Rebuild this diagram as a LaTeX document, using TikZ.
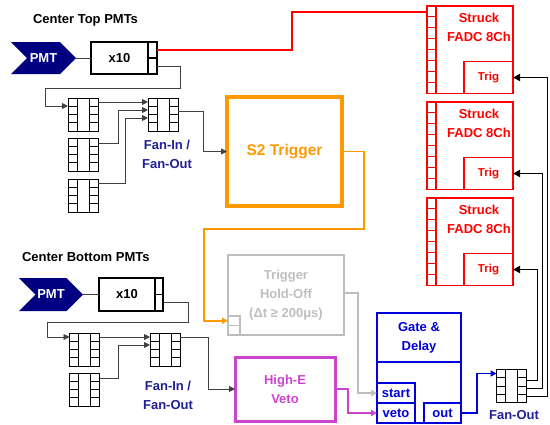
\documentclass[tikz,border=0pt]{standalone}
\usepackage{fontspec}
\setmainfont{Liberation Sans}
\usetikzlibrary{arrows.meta,calc,shapes.symbols}
\definecolor{navy}{RGB}{0,0,128}
\definecolor{labelblue}{RGB}{32,32,150}
\definecolor{fred}{RGB}{255,0,0}
\definecolor{sorange}{RGB}{255,153,0}
\definecolor{hgray}{RGB}{190,190,190}
\definecolor{vmag}{RGB}{204,68,204}
\definecolor{gblue}{RGB}{0,0,220}
\definecolor{wire}{RGB}{64,64,64}
\begin{document}
\begin{tikzpicture}[x=1pt,y=-1pt,
  font=\fontsize{13}{19}\selectfont\bfseries,
  every node/.style={inner sep=0pt, outer sep=0pt},
  blk/.style={draw, line width=1.3pt, fill=white, align=center},
  fan/.style={draw, line width=0.8pt, fill=white, minimum width=30pt, minimum height=33pt,
    path picture={
      \foreach \f in {0.25,0.5,0.75}{
        \draw[line width=0.8pt] ($(path picture bounding box.north west)!\f!(path picture bounding box.south west)$) -- ++(9,0);
        \draw[line width=0.8pt] ($(path picture bounding box.north east)!\f!(path picture bounding box.south east)$) -- ++(-9,0);
      }
      \draw[line width=0.8pt] ($(path picture bounding box.north west)+(9,0)$) -- ($(path picture bounding box.south west)+(9,0)$);
      \draw[line width=0.8pt] ($(path picture bounding box.north east)+(-9,0)$) -- ($(path picture bounding box.south east)+(-9,0)$);
    }},
  redport/.style={draw=fred, line width=1.3pt, fill=white, minimum width=9pt, minimum height=87.5pt,
    path picture={
      \foreach \k [evaluate=\k as \f using \k/8] in {1,...,7}{
        \draw[fred, line width=1.1pt] ($(path picture bounding box.north west)!\f!(path picture bounding box.south west)$) -- ++(12,0);
      }
    }},
  redbox/.style={draw=fred, line width=1.3pt, text=fred, align=center},
  pmt/.style={signal, signal to=east, signal from=west, fill=navy, text=white},
  wirel/.style={draw=wire, line width=0.9pt},
  arr/.style={-{Triangle[length=6pt,width=6pt]}},
  trigw/.style={draw=black, line width=1.8pt, -{Triangle[length=7pt,width=7pt]}}
]
\useasboundingbox (0,0) rectangle (550,424);

% ---------- labels
\node[anchor=west] (ltop) at (33,20) {Center Top PMTs};
\node[anchor=west] (lbot) at (22,257) {Center Bottom PMTs};

% ---------- top chain
\node[pmt, minimum width=65pt, minimum height=32pt] (pmt1) at (43.5,58) {PMT};
\node[blk, minimum width=57pt, minimum height=32pt] (x10T) at (119.5,58) {x10};
\node[blk, minimum width=9pt, minimum height=16pt] (x10Ta) at (152.5,50) {};
\node[blk, minimum width=9pt, minimum height=16pt] (x10Tb) at (152.5,66) {};
\draw[wirel] (pmt1.east) -- (x10T.west);

\node[fan] (A1) at (83,114.5) {};
\node[fan] (A2) at (83,154.5) {};
\node[fan] (A3) at (83,195.5) {};
\node[fan] (B) at (163,114.5) {};
\node[labelblue, align=center] (lfanT) at (167,154) {Fan-In /\\Fan-Out};

\draw[wirel,arr] (x10Tb.east) -- ++(23,0) -- ++(0,22) -| ($(A1.north west)+(-23,8)$) -- ($(A1.north west)+(0,8)$);
\draw[wirel,arr] ($(A1.north east)+(0,4)$) -- ($(B.north west)+(0,4)$);
\draw[wirel,arr] ($(A2.north east)+(0,5)$) -- ++(20,0) |- ($(B.north west)+(0,12)$);
\draw[wirel,arr] ($(A3.north east)+(0,4)$) -- ++(27,0) |- ($(B.north west)+(0,20)$);

% ---------- S2 trigger
\node[draw=sorange, line width=3.5pt, text=sorange, minimum width=115pt, minimum height=109pt,
  font=\fontsize{15.5}{18}\selectfont\bfseries] (s2trig) at (284.5,151.5) {S2 Trigger};
\draw[wirel,arr] ($(B.north east)+(0,13)$) -- ++(25,0) |- (s2trig.west);

% ---------- hold-off
\node[draw=hgray, line width=2.5pt, text=hgray, align=center, minimum width=116pt, minimum height=80pt] (HO) at (286,295)
  {Trigger\\Hold-Off\\(Δt ≥ 200μs)};
\node[draw=hgray, line width=1.5pt, fill=white, minimum width=12pt, minimum height=9.5pt] (HOp1) at (234,320.75) {};
\node[draw=hgray, line width=1.5pt, fill=white, minimum width=12pt, minimum height=9.5pt] (HOp2) at (234,330.25) {};
\draw[draw=sorange, line width=1.5pt, arr] (s2trig.east) -- ++(22,0) -- ++(0,77.5) -| ($(HOp1.west)+(-24,0)$) -- (HOp1.west);

% ---------- bottom chain
\node[pmt, minimum width=64pt, minimum height=33pt] (pmt2) at (51,294.5) {PMT};
\node[blk, minimum width=56pt, minimum height=33pt] (x10B) at (127,294.5) {x10};
\node[blk, minimum width=8pt, minimum height=16.5pt] (x10Ba) at (159,286.25) {};
\node[blk, minimum width=8pt, minimum height=16.5pt] (x10Bb) at (159,302.75) {};
\draw[wirel] (pmt2.east) -- (x10B.west);

\node[fan] (C1) at (84.5,349.5) {};
\node[fan] (C2) at (84.5,389.5) {};
\node[fan] (D) at (165,349.5) {};
\node[labelblue, align=center] (lfanB) at (168,395) {Fan-In /\\Fan-Out};

\draw[wirel,arr] (x10Bb.east) -- ++(25,0) -- ++(0,19.5) -| ($(C1.north west)+(-22.5,4)$) -- ($(C1.north west)+(0,4)$);
\draw[wirel,arr] ($(C1.north east)+(0,4)$) -- ($(D.north west)+(0,4)$);
\draw[wirel,arr] ($(C2.north east)+(0,5)$) -- ++(18.5,0) |- ($(D.north west)+(0,12)$);

% ---------- High-E veto
\node[draw=vmag, line width=3pt, text=vmag, align=center, minimum width=100pt, minimum height=64pt] (HE) at (285,389) {High-E\\Veto};
\draw[wirel,arr] ($(D.north east)+(0,4)$) -- ++(28,0) |- (HE.west);

% ---------- Gate & Delay
\node[draw=gblue, line width=1.5pt, minimum width=84pt, minimum height=110pt] (G) at (419,368) {};
\node[draw=gblue, line width=1.5pt, text=gblue, align=center, minimum width=84pt, minimum height=49pt] (Gtop) at (419,337.5) {Gate \&\\Delay};
\node[draw=gblue, line width=1.5pt, text=gblue, minimum width=38pt, minimum height=20pt] (start) at (396,393) {start};
\node[draw=gblue, line width=1.5pt, text=gblue, minimum width=38pt, minimum height=20pt] (veto) at (396,413) {veto};
\node[draw=gblue, line width=1.5pt, text=gblue, minimum width=37pt, minimum height=20pt] (out) at (442.5,413) {out};

\draw[draw=hgray, line width=1.5pt, arr] ($(HO.north east)+(0,38)$) -- ++(14,0) |- (start.west);
\draw[draw=vmag, line width=1.5pt, arr] (HE.east) -- ++(13,0) |- (veto.west);

% ---------- Fan-out
\node[fan] (FO) at (511.5,386) {};
\node[labelblue] (lfo) at (514,415) {Fan-Out};
\draw[draw=gblue, line width=1.5pt, arr] (out.east) -- ++(16,0) |- ($(FO.north west)+(0,4)$);

% ---------- Struck FADCs
\foreach \n/\t in {1/6,2/102,3/198}{
  \node[redbox, minimum width=86pt, minimum height=87.5pt] (fadc\n) at (470,\t+43.75) {};
  \node[redport] (fadc\n p) at (431.5,\t+43.75) {};
  \node[redbox, minimum width=49pt, minimum height=32pt, font=\fontsize{11.5}{13}\selectfont\bfseries] (fadc\n trig) at (488.5,\t+71.5) {Trig};
  \node[text=fred, align=center] (fadc\n t) at (479,\t+21.5) {Struck\\FADC 8Ch};
}

\draw[draw=fred, line width=1.5pt] (x10Ta.east) -- ++(135,0) |- ($(fadc1p.north west)+(0,6)$);

\draw[trigw] ($(FO.north east)+(0,11)$) -- ++(11,0) |- (fadc3trig.east);
\draw[trigw] ($(FO.north east)+(0,19)$) -- ++(16,0) |- (fadc2trig.east);
\draw[trigw] ($(FO.north east)+(0,27)$) -- ++(21,0) |- (fadc1trig.east);
\end{tikzpicture}
\end{document}
